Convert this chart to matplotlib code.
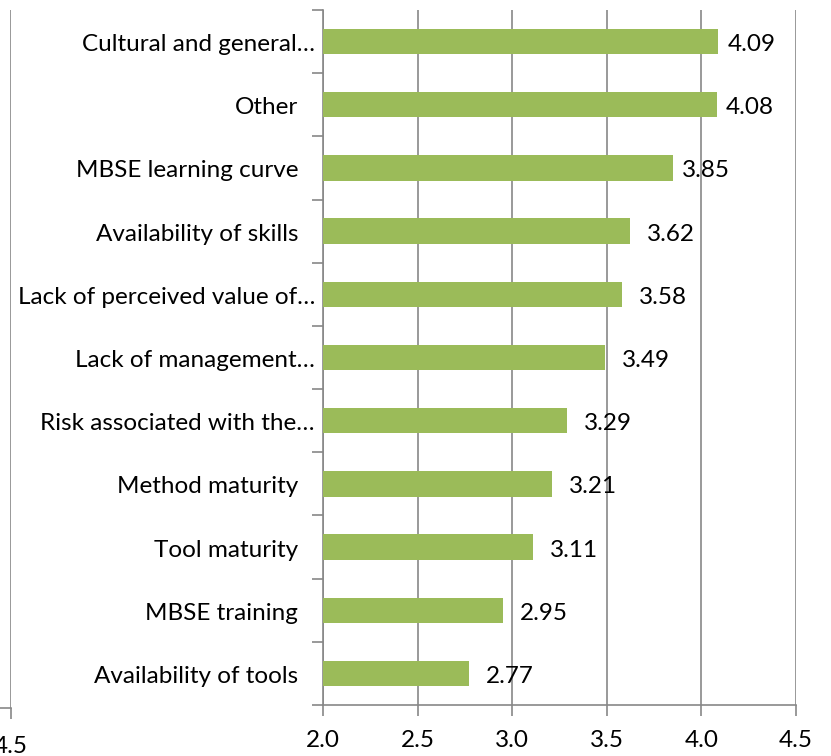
import matplotlib.pyplot as plt

plt.rcParams['font.family'] = ['Lato', 'DejaVu Sans']

# barriers to MBSE adoption, mean score
labels = ["Availability of tools ", "MBSE training ", "Tool maturity ",
          "Method maturity ", "Risk associated with the\u2026",
          "Lack of management\u2026", "Lack of perceived value of\u2026",
          "Availability of skills ", "MBSE learning curve ", "Other ",
          "Cultural and general\u2026"]
scores = [2.77, 2.95, 3.11, 3.21, 3.29, 3.49, 3.58, 3.62, 3.85, 4.08, 4.09]
xticks = [2.0, 2.5, 3.0, 3.5, 4.0, 4.5]

bar_color = '#9BBB59'
grid_color = '#878787'
fs = 17.5

W, H = 831, 756
fig = plt.figure(figsize=(W / 100, H / 100), dpi=100)

# main chart
ax = fig.add_axes([323 / W, 1 - 705 / H, (796 - 323) / W, (705 - 10) / H])
pos = list(range(len(labels)))
ax.barh(pos, [s - 2.0 for s in scores], left=2.0, height=0.4,
        color=bar_color, zorder=3)
for p, s in zip(pos, scores):
    off = 9 if s > 3.8 else 17
    ax.annotate(f"{s:.2f}", (s, p), xytext=(off, -3), textcoords='offset pixels',
                va='center', ha='left', fontsize=fs, zorder=4)

# category names; the ones with a trailing blank sit further from the axis
for p, lab in zip(pos, labels):
    off = 25 if lab.endswith(' ') else 8
    ax.annotate(lab.rstrip(), (0, p), xycoords=('axes fraction', 'data'),
                xytext=(-off, -3), textcoords='offset pixels',
                va='center', ha='right', fontsize=fs)

ax.set_xlim(2.0, 4.5)
ax.set_ylim(-0.5, len(labels) - 0.5)
ax.set_xticks(xticks)
ax.set_xticklabels([f"{t:.1f}" for t in xticks], fontsize=fs)
ax.set_yticks([p - 0.5 for p in pos] + [len(labels) - 0.5])
ax.set_yticklabels([])
ax.tick_params(axis='y', length=8, color=grid_color, width=1.2)
ax.tick_params(axis='x', length=8, color=grid_color, width=1.2, pad=10)
ax.grid(axis='x', color=grid_color, linewidth=1.2, zorder=0)
for side in ('top', 'right'):
    ax.spines[side].set_visible(False)
for side in ('left', 'bottom'):
    ax.spines[side].set_color(grid_color)
    ax.spines[side].set_linewidth(1.2)

# edge of the neighbouring chart on the left
ax2 = fig.add_axes([-400 / W, 1 - 708 / H, 411 / W, (708 - 10) / H])
ax2.set_xlim(2.0, 4.5)
ax2.set_xticks([4.5])
ax2.set_xticklabels(["4.5"], fontsize=fs)
ax2.set_yticks([])
ax2.tick_params(axis='x', length=8, color=grid_color, width=1.2, pad=12)
ax2.grid(axis='x', color=grid_color, linewidth=1.2)
for side in ('top', 'right', 'left'):
    ax2.spines[side].set_visible(False)
ax2.spines['bottom'].set_color(grid_color)
ax2.spines['bottom'].set_linewidth(1.2)

fig.savefig('out.png', dpi=100)
